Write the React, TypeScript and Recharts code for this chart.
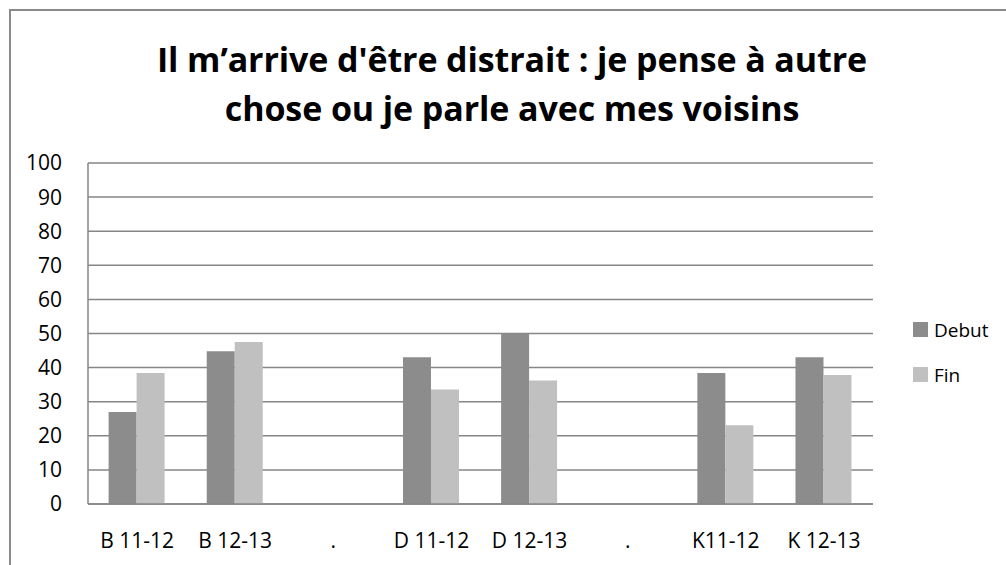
import React from 'react';
import { BarChart, Bar, XAxis, YAxis, CartesianGrid, Legend } from 'recharts';

const categories = ['B 11-12', 'B 12-13', '.', 'D 11-12', 'D 12-13', '.', 'K11-12', 'K 12-13'];
const debut = [27, 44.8, null, 43, 50, null, 38.4, 43];
const fin = [38.4, 47.5, null, 33.6, 36.2, null, 23.1, 37.8];
const yTicks = [0, 10, 20, 30, 40, 50, 60, 70, 80, 90, 100];

const titleLines = ["Il m\u2019arrive d'être distrait : je pense à autre", 'chose ou je parle avec mes voisins'];

const data = categories.map((c, i) => ({ name: c, Debut: debut[i], Fin: fin[i] }));

const font = '"Open Sans", sans-serif';

const LegendBox = (props: any) => {
  const { payload } = props;
  return (
    <div style={{ fontFamily: font, fontSize: 19, color: '#000' }}>
      {(payload || []).map((p: any) => (
        <div key={p.value} style={{ display: 'flex', alignItems: 'center', height: 45 }}>
          <span style={{ width: 15, height: 15, background: p.color, display: 'inline-block', marginRight: 6 }} />
          <span>{p.value}</span>
        </div>
      ))}
    </div>
  );
};

export default function App() {
  return (
    <div style={{ position: 'absolute', left: 0, top: 0, width: 1006, height: 565, background: '#fff', overflow: 'hidden' }}>
      <div
        style={{
          position: 'absolute',
          left: 9,
          top: 9,
          width: 1100,
          height: 700,
          borderTop: '2px solid #8a8a8a',
          borderLeft: '2px solid #8a8a8a',
        }}
      />
      <div
        style={{
          position: 'absolute',
          left: 0,
          width: 1024,
          top: 35,
          textAlign: 'center',
          fontFamily: font,
          fontWeight: 700,
          fontSize: 34,
          lineHeight: '49px',
          letterSpacing: -0.1,
          color: '#000',
        }}
      >
        {titleLines.map((l) => (
          <div key={l}>{l}</div>
        ))}
      </div>
      <div style={{ position: 'absolute', left: 0, top: 0 }}>
        <BarChart
          width={1006}
          height={565}
          data={data}
          margin={{ top: 163, right: 43, bottom: 31, left: 28 }}
          barCategoryGap="21%"
          barGap={0}
        >
          <CartesianGrid vertical={false} stroke="#868686" strokeWidth={1.5} />
          <XAxis
            dataKey="name"
            height={30}
            tickLine={false}
            axisLine={{ stroke: '#868686', strokeWidth: 1.5 }}
            tick={{ fill: '#000', fontSize: 21, fontFamily: font, dy: 21 }}
            interval={0}
          />
          <YAxis
            width={60}
            domain={[0, 100]}
            ticks={yTicks}
            tickLine={false}
            axisLine={{ stroke: '#868686', strokeWidth: 1.5 }}
            tick={{ fill: '#000', fontSize: 21, fontFamily: font, dx: -18 }}
            interval={0}
          />
          <Legend
            layout="vertical"
            align="right"
            verticalAlign="top"
            content={LegendBox}
            wrapperStyle={{ left: 913, top: 307, width: 90 }}
          />
          <Bar dataKey="Debut" fill="#8c8c8c" isAnimationActive={false} />
          <Bar dataKey="Fin" fill="#c0c0c0" isAnimationActive={false} />
        </BarChart>
      </div>
    </div>
  );
}
